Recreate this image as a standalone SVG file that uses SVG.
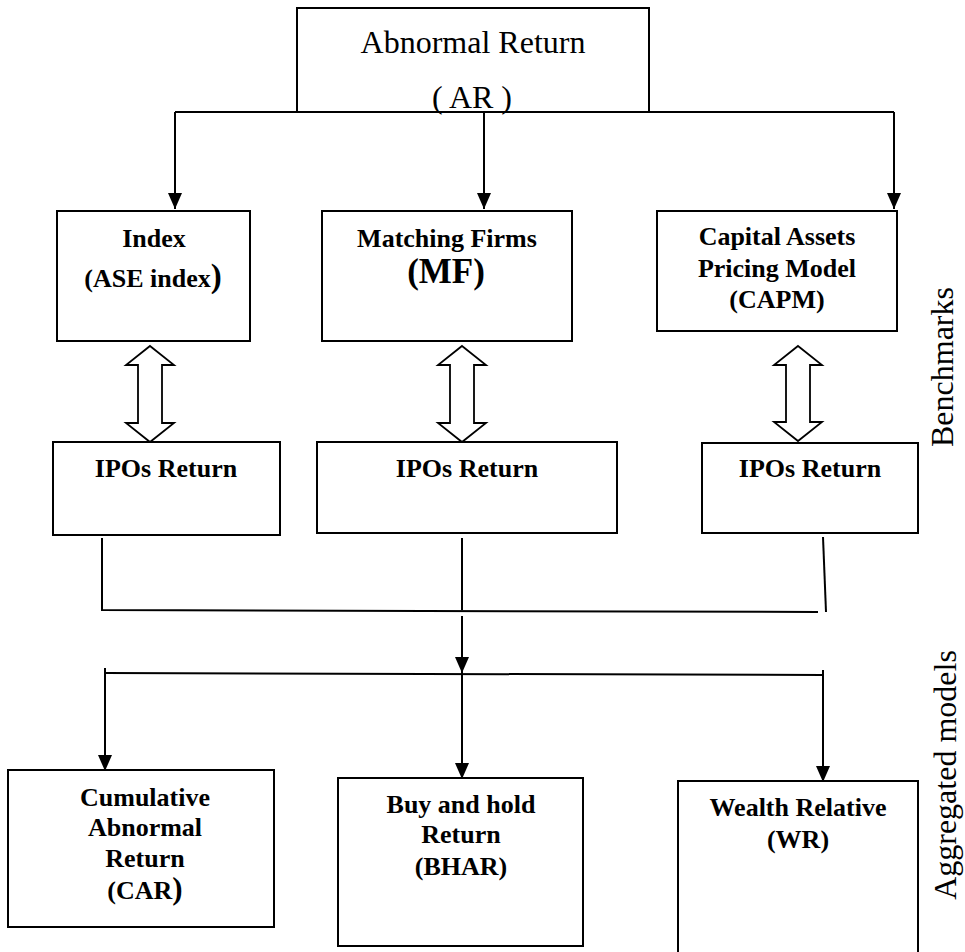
<svg xmlns="http://www.w3.org/2000/svg" width="965" height="952" viewBox="0 0 965 952">
<defs>
<marker id="ah" markerUnits="userSpaceOnUse" markerWidth="16" markerHeight="16" viewBox="0 0 16 16" refX="16" refY="8" orient="auto">
<path d="M0,1 L16,8 L0,15 Z" fill="#000"/>
</marker>
</defs>
<style>
.box{fill:#fff;stroke:#000;stroke-width:2}
.ln{fill:none;stroke:#000;stroke-width:2}
.dbl{fill:#fff;stroke:#000;stroke-width:1.8;stroke-linejoin:miter}
.t{font-family:"Liberation Serif","Times New Roman",serif;fill:#000;text-anchor:middle}
.b{font-weight:bold;font-size:26px}
.r{font-size:32px}
</style>
<rect width="965" height="952" fill="#fff"/>

<g id="ar">
<path class="ln" d="M297,112 L297,8 L649,8 L649,112"/>
<text class="t r" x="473" y="53">Abnormal Return</text>
<text class="t r" x="472" y="108">( AR )</text>
</g>

<g id="connectors">
<path class="ln" d="M175,112 L894,112"/>
<path class="ln" d="M175,112 L175,209" marker-end="url(#ah)"/>
<path class="ln" d="M484,112 L484,209" marker-end="url(#ah)"/>
<path class="ln" d="M894,112 L894,209" marker-end="url(#ah)"/>
<polygon class="dbl" points="150,346 174,365 162,365 162,423 174,423 150,442 126,423 138,423 138,365 126,365"/>
<polygon class="dbl" points="462,346 486,365 474,365 474,423 486,423 462,442 438,423 450,423 450,365 438,365"/>
<polygon class="dbl" points="798,346 822,365 810,365 810,422 822,422 798,441 774,422 786,422 786,365 774,365"/>
<path class="ln" d="M102,538 L102,610 L818,612"/>
<path class="ln" d="M462,538 L462,610"/>
<path class="ln" d="M823,537 L826,612"/>
<path class="ln" d="M462,616 L462,673" marker-end="url(#ah)"/>
<path class="ln" d="M105,673 L823,675"/>
<path class="ln" d="M105,668 L105,771" marker-end="url(#ah)"/>
<path class="ln" d="M462,673 L462,779" marker-end="url(#ah)"/>
<path class="ln" d="M823,670 L823,782" marker-end="url(#ah)"/>
</g>

<g id="index">
<rect class="box" x="57" y="211" width="193" height="130"/>
<text class="t b" x="154" y="247">Index</text>
<text class="t b" x="153" y="287">(ASE index<tspan font-size="33">)</tspan></text>
</g>

<g id="mf">
<rect class="box" x="322" y="211" width="250" height="130"/>
<text class="t b" x="447" y="247" font-size="27">Matching Firms</text>
<text class="t" x="446" y="283" font-size="35" font-weight="bold">(MF)</text>
</g>

<g id="capm">
<rect class="box" x="657" y="211" width="240" height="120"/>
<text class="t b" x="777" y="245">Capital Assets</text>
<text class="t b" x="777" y="277">Pricing Model</text>
<text class="t b" x="777" y="308">(CAPM)</text>
</g>

<g id="ipo1">
<rect class="box" x="53" y="442" width="227" height="93"/>
<text class="t b" x="166" y="477">IPOs Return</text>
</g>
<g id="ipo2">
<rect class="box" x="317" y="442" width="300" height="91"/>
<text class="t b" x="467" y="477">IPOs Return</text>
</g>
<g id="ipo3">
<rect class="box" x="702" y="443" width="216" height="90"/>
<text class="t b" x="810" y="477">IPOs Return</text>
</g>

<g id="car">
<rect class="box" x="8" y="770" width="266" height="157"/>
<text class="t b" x="145" y="806">Cumulative</text>
<text class="t b" x="145" y="836">Abnormal</text>
<text class="t b" x="145" y="867">Return</text>
<text class="t b" x="145" y="899">(CAR<tspan font-size="31">)</tspan></text>
</g>

<g id="bhar">
<rect class="box" x="338" y="778" width="245" height="168"/>
<text class="t b" x="461" y="813">Buy and hold</text>
<text class="t b" x="461" y="843">Return</text>
<text class="t b" x="461" y="875">(BHAR)</text>
</g>

<g id="wr">
<rect class="box" x="678" y="781" width="240" height="180"/>
<text class="t b" x="798" y="816">Wealth Relative</text>
<text class="t b" x="798" y="848">(WR)</text>
</g>

<g id="labels">
<text class="t r" transform="translate(953,367) rotate(-90)">Benchmarks</text>
<text class="t r" transform="translate(956,775) rotate(-90)">Aggregated models</text>
</g>
</svg>
